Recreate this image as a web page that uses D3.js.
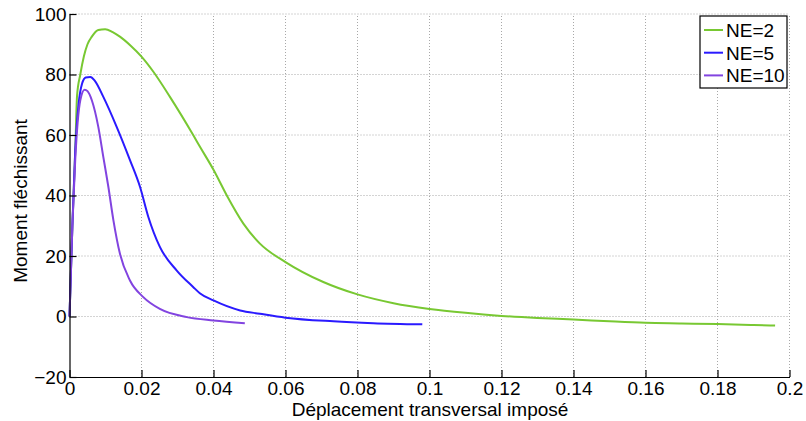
<!DOCTYPE html>
<html><head><meta charset="utf-8">
<script src="https://cdn.jsdelivr.net/npm/d3@7"></script>
<style>body{margin:0;background:#fff}svg{display:block}text{font-family:"Liberation Sans",Arial,sans-serif}</style>
</head><body><svg id="c" width="806" height="421"></svg>
<script>
const seriesNames = ["NE=2","NE=5","NE=10"];
const seriesColors = ["#78c832","#2a1aff","#8244e0"];
const ne2X = [0,0.0008,0.0016,0.0021,0.003,0.004,0.005,0.0062,0.008,0.0099,0.012,0.014,0.017,0.02,0.0233,0.0279,0.0344,0.0362,0.04,0.0437,0.0483,0.0529,0.06,0.0705,0.08,0.09,0.1,0.11,0.12,0.13,0.14,0.15,0.16,0.17,0.18,0.19,0.196];
const ne2Y = [0,30,55,73,80,86,90,92.5,94.7,95,94,92.5,89.5,85.9,80.9,72.6,59.9,56.2,48.5,40,30.7,24.1,18,11.4,7.3,4.4,2.5,1.2,0.2,-0.5,-1,-1.6,-2.1,-2.3,-2.5,-2.8,-3];
const ne5X = [0,0.0008,0.0016,0.0025,0.0035,0.0045,0.0058,0.007,0.0094,0.0131,0.0168,0.0196,0.0219,0.0251,0.0298,0.0344,0.0362,0.04,0.0474,0.0529,0.06,0.0733,0.0844,0.098];
const ne5Y = [0,30,55,70,77,79,79.2,78,72.6,62.7,51.7,42.8,32.9,23,15.2,9.7,7.7,5.3,2,0.9,-0.4,-1.6,-2.2,-2.6];
const ne10X = [0,0.0008,0.0016,0.003,0.0042,0.005,0.0062,0.008,0.0094,0.0108,0.0122,0.014,0.0168,0.0205,0.0251,0.0326,0.04,0.0487];
const ne10Y = [0,30,52,71.5,75,74.5,71.5,62.7,52.7,42.8,31.8,20.8,11.9,6.4,2.5,-0.2,-1.3,-2.2];
const xTicks = [0,0.02,0.04,0.06,0.08,0.1,0.12,0.14,0.16,0.18,0.2];
const xTickLabels = ["0","0.02","0.04","0.06","0.08","0.1","0.12","0.14","0.16","0.18","0.2"];
const yTicks = [-20,0,20,40,60,80,100];
const yTickLabels = ["\u221220","0","20","40","60","80","100"];
const xTitle = "Déplacement transversal imposé";
const yTitle = "Moment fléchissant";

const L=69.5, R=789.5, T=14, B=377;
const svg = d3.select("#c");
const x = d3.scaleLinear().domain([0,0.2]).range([L,R]);
const y = d3.scaleLinear().domain([-20,100]).range([B,T]);
const fs = 19;

// grid
const g = svg.append("g");
xTicks.forEach(t=>{ if(t>0) g.append("line").attr("x1",x(t)).attr("x2",x(t)).attr("y1",B).attr("y2",T)
  .attr("stroke","#a8a8a8").attr("stroke-width",1).attr("stroke-dasharray","1,2"); });
yTicks.forEach(t=>{ if(t>-20) g.append("line").attr("x1",L).attr("x2",R).attr("y1",y(t)).attr("y2",y(t))
  .attr("stroke","#a8a8a8").attr("stroke-width",1).attr("stroke-dasharray","1,2"); });

// lines
const data = [[ne2X,ne2Y],[ne5X,ne5Y],[ne10X,ne10Y]];
const line = d3.line().x(d=>x(d[0])).y(d=>y(d[1])).curve(d3.curveMonotoneX);
data.forEach((s,i)=>{
  const pts = s[0].map((v,j)=>[v,s[1][j]]);
  svg.append("path").attr("d",line(pts)).attr("fill","none").attr("stroke",seriesColors[i]).attr("stroke-width",2);
});

// axes
const xa = svg.append("g").attr("transform",`translate(0,${B})`)
  .call(d3.axisBottom(x).tickValues(xTicks).tickFormat((d,i)=>xTickLabels[i]).tickSizeInner(-7).tickSizeOuter(0).tickPadding(10));
const ya = svg.append("g").attr("transform",`translate(${L},0)`)
  .call(d3.axisLeft(y).tickValues(yTicks).tickFormat((d,i)=>yTickLabels[i]).tickSizeInner(-7).tickSizeOuter(0).tickPadding(3));
[xa,ya].forEach(a=>{
  a.selectAll("path").attr("stroke","#000").attr("stroke-width",1.2);
  a.selectAll("line").attr("stroke","#000").attr("stroke-width",1.2);
  a.selectAll("text").attr("font-size",fs).attr("fill","#000").attr("font-family","Liberation Sans, Arial, sans-serif");
});
xa.selectAll("text").attr("dy","0.71em").attr("y",5);

svg.append("text").attr("x",430).attr("y",416).attr("text-anchor","middle").attr("font-size",fs).text(xTitle);
svg.append("text").attr("transform","translate(27,201) rotate(-90)").attr("text-anchor","middle").attr("font-size",fs).text(yTitle);

// legend
const lg = svg.append("g");
lg.append("rect").attr("x",700).attr("y",16).attr("width",87).attr("height",72).attr("fill","#fff").attr("stroke","#000").attr("stroke-width",1.2);
seriesNames.forEach((n,i)=>{
  const yy = 30 + i*22.7;
  lg.append("line").attr("x1",704).attr("x2",723).attr("y1",yy).attr("y2",yy).attr("stroke",seriesColors[i]).attr("stroke-width",2);
  lg.append("text").attr("x",726).attr("y",yy).attr("dy","0.36em").attr("font-size",fs).text(n);
});
</script></body></html>
